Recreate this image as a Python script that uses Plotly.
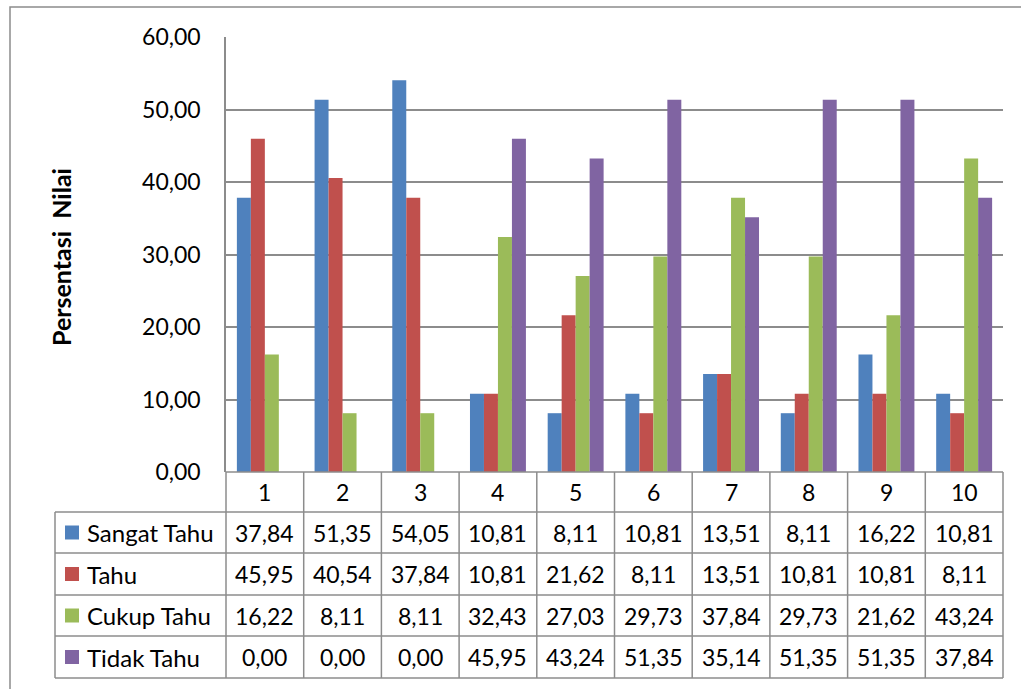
import plotly.graph_objects as go

categories = ["1", "2", "3", "4", "5", "6", "7", "8", "9", "10"]
series_names = ["Sangat Tahu", "Tahu", "Cukup Tahu", "Tidak Tahu"]
sangat_tahu = [37.84, 51.35, 54.05, 10.81, 8.11, 10.81, 13.51, 8.11, 16.22, 10.81]
tahu = [45.95, 40.54, 37.84, 10.81, 21.62, 8.11, 13.51, 10.81, 10.81, 8.11]
cukup_tahu = [16.22, 8.11, 8.11, 32.43, 27.03, 29.73, 37.84, 29.73, 21.62, 43.24]
tidak_tahu = [0.00, 0.00, 0.00, 45.95, 43.24, 51.35, 35.14, 51.35, 51.35, 37.84]
y_ticks = [0, 10, 20, 30, 40, 50, 60]
y_title = "Persentasi  Nilai"

series_values = [sangat_tahu, tahu, cukup_tahu, tidak_tahu]
colors = ["#4F81BD", "#C0504D", "#9BBB59", "#8064A2"]

W, H = 1021, 689
L, R, T, B = 226, 1003, 37, 472  # plot area in pixels
FONT = "Lato"
GRID = "#8C8C8C"

def px(x):
    return (x - L) / (R - L)

def py(y):
    return (B - y) / (B - T)

fig = go.Figure()
for name, vals, col in zip(series_names, series_values, colors):
    fig.add_trace(go.Bar(x=categories, y=vals, name=name, marker_color=col,
                         marker_line_width=0, showlegend=False))

shapes = []
annotations = []

# outer chart border
shapes.append(dict(type="rect", xref="paper", yref="paper",
                   x0=px(10), x1=px(1040), y0=py(7), y1=py(700),
                   line=dict(color="#8C8C8C", width=1.5), layer="below"))

# table geometry
ncol = len(categories)
colw = (R - L) / ncol
row_edges = [472, 512, 553, 595, 636, 678]
label_left = 55
line_style = dict(color=GRID, width=1.5)

shapes.append(dict(type="line", xref="paper", yref="paper", x0=px(L), x1=px(R),
                   y0=py(row_edges[0]), y1=py(row_edges[0]), line=line_style))
for ry in row_edges[1:]:
    shapes.append(dict(type="line", xref="paper", yref="paper", x0=px(label_left), x1=px(R),
                       y0=py(ry), y1=py(ry), line=line_style))
shapes.append(dict(type="line", xref="paper", yref="paper", x0=px(label_left), x1=px(label_left),
                   y0=py(row_edges[1]), y1=py(row_edges[-1]), line=line_style))
for k in range(ncol + 1):
    xx = L + k * colw
    shapes.append(dict(type="line", xref="paper", yref="paper", x0=px(xx), x1=px(xx),
                       y0=py(row_edges[0]), y1=py(row_edges[-1]), line=line_style))

def fmt(v):
    return f"{v:.2f}".replace(".", ",")

tfont = dict(family=FONT, size=23, color="#000000")
for k, c in enumerate(categories):
    cx = L + (k + 0.5) * colw
    cy = (row_edges[0] + row_edges[1]) / 2
    annotations.append(dict(xref="paper", yref="paper", x=px(cx), y=py(cy), text=c,
                            showarrow=False, font=tfont, xanchor="center", yanchor="middle"))
for r, (name, vals, col) in enumerate(zip(series_names, series_values, colors)):
    cy = (row_edges[r + 1] + row_edges[r + 2]) / 2
    shapes.append(dict(type="rect", xref="paper", yref="paper",
                       x0=px(65), x1=px(79), y0=py(cy - 7), y1=py(cy + 7),
                       fillcolor=col, line=dict(width=0)))
    annotations.append(dict(xref="paper", yref="paper", x=px(85), y=py(cy), text=name,
                            showarrow=False, font=dict(family=FONT, size=24, color="#000000"),
                            xanchor="left", yanchor="middle"))
    for k, v in enumerate(vals):
        cx = L + (k + 0.5) * colw
        annotations.append(dict(xref="paper", yref="paper", x=px(cx), y=py(cy), text=fmt(v),
                                showarrow=False, font=tfont, xanchor="center", yanchor="middle"))

annotations.append(dict(xref="paper", yref="paper", x=px(61), y=py(257), text=f"<b>{y_title}</b>",
                        textangle=-90, showarrow=False,
                        font=dict(family=FONT, size=25, color="#000000"),
                        xanchor="center", yanchor="middle"))

fig.update_layout(
    width=W, height=H,
    margin=dict(l=L, r=W - R, t=T, b=H - B, pad=0),
    paper_bgcolor="white", plot_bgcolor="white",
    barmode="group", bargap=0.28, bargroupgap=0,
    separators=",.",
    shapes=shapes, annotations=annotations,
    xaxis=dict(showticklabels=False, showgrid=False, zeroline=False, showline=False,
               ticks="", range=[-0.5, ncol - 0.5]),
    yaxis=dict(range=[0, 60], tickvals=y_ticks, tickformat=".2f", showgrid=True,
               gridcolor=GRID, gridwidth=1.5, zeroline=False, showline=True,
               linecolor=GRID, linewidth=1.5, ticks="", ticklabelstandoff=19,
               tickfont=dict(family=FONT, size=23, color="#000000")),
    font=dict(family=FONT),
)

fig.write_html("out.html")
